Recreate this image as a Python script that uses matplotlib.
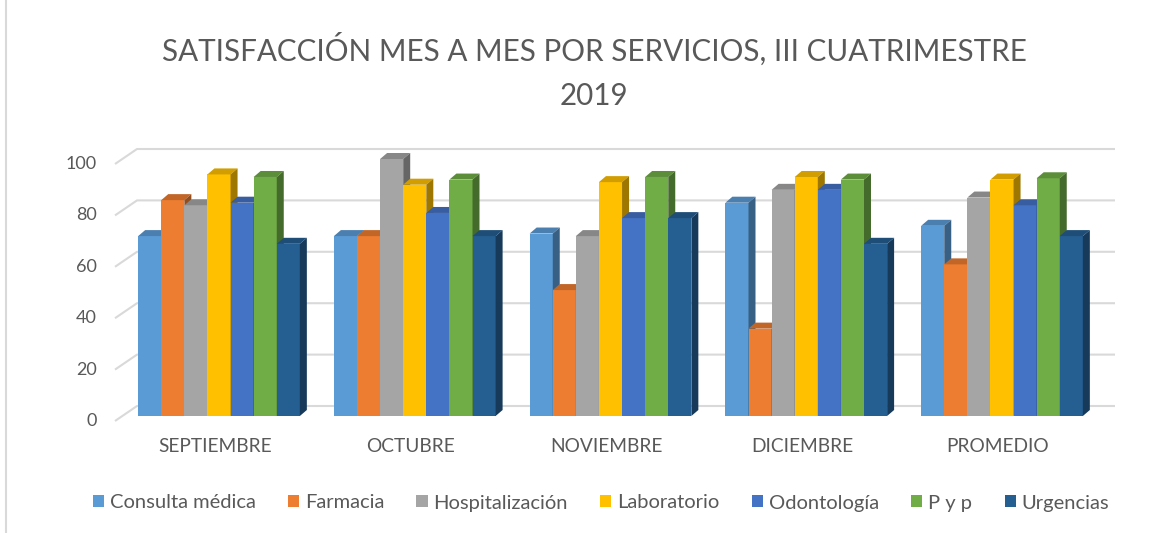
import matplotlib
matplotlib.use("Agg")
import matplotlib.pyplot as plt
from matplotlib.patches import Polygon
from matplotlib.lines import Line2D
from matplotlib.patches import Patch
from matplotlib.colors import to_rgb

plt.rcParams['font.family'] = ['Lato', 'DejaVu Sans']

# data
meses = ["SEPTIEMBRE", "OCTUBRE", "NOVIEMBRE", "DICIEMBRE", "PROMEDIO"]
servicios = ["Consulta médica", "Farmacia", "Hospitalización", "Laboratorio",
             "Odontología", "P y p", "Urgencias"]
consulta = [70, 70, 71, 83, 74]
farmacia = [84, 70, 49, 34, 59]
hospitalizacion = [82, 100, 70, 88, 85]
laboratorio = [94, 90, 91, 93, 92]
odontologia = [83, 79, 77, 88, 82]
pyp = [93, 92, 93, 92, 92.5]
urgencias = [67, 70, 77, 67, 70]
yticks = [0, 20, 40, 60, 80, 100]

series = [consulta, farmacia, hospitalizacion, laboratorio, odontologia, pyp, urgencias]
colores = ["#5B9BD5", "#ED7D31", "#A5A5A5", "#FFC000", "#4472C4", "#70AD47", "#255E91"]

gris = "#595959"

def shade(c, f):
    r, g, b = to_rgb(c)
    return (r * f, g * f, b * f)

fig = plt.figure(figsize=(11.72, 5.33), dpi=100)
W, H = 1172, 533
# axes placed so 1 x unit = 195.75 px, 1 y unit = 2.57 px
left_px, right_px, top_px, bot_px = 100, 1125, 140, 430
ax = fig.add_axes([left_px / W, 1 - bot_px / H, (right_px - left_px) / W, (bot_px - top_px) / H])
x0px, y0px, sx, sy = 219, 416, 195.75, 2.57
ax.set_xlim((left_px - x0px) / sx, (right_px - x0px) / sx)
ax.set_ylim(-(bot_px - y0px) / sy, (y0px - top_px) / sy)
ax.axis("off")

# 3d offsets
bx_front, by_front = (115 - x0px) / sx, -5 / sy     # front floor edge
bx_back, by_back = (137 - x0px) / sx, 10 / sy       # back wall
bx_end = (1115 - x0px) / sx
ddx, ddy = 7 / sx, 6 / sy                           # bar depth

# gridlines on back wall with floor diagonal
for v in yticks:
    ax.plot([bx_front, bx_back, bx_end], [v + by_front, v + by_back, v + by_back],
            color="#D9D9D9", lw=1.5, zorder=0, solid_capstyle="butt")
    ax.text(bx_front - 18 / sx, v + by_front, str(v), ha="right", va="center",
            fontsize=13, color=gris, clip_on=False)

w = 23.1 / sx
z = 2
for i in range(len(meses)):
    for j, vals in enumerate(series):
        v = vals[i]
        xl = i + (j - 3) * w - w / 2
        xr = xl + w
        c = colores[j]
        ax.bar(xl, v, width=w, align="edge", color=c, zorder=z, linewidth=0)
        top = Polygon([(xl, v), (xl + ddx, v + ddy), (xr + ddx, v + ddy), (xr, v)],
                      closed=True, facecolor=shade(c, 0.82), edgecolor="none", zorder=z)
        side = Polygon([(xr, 0), (xr + ddx, ddy), (xr + ddx, v + ddy), (xr, v)],
                       closed=True, facecolor=shade(c, 0.62), edgecolor="none", zorder=z)
        ax.add_patch(top)
        ax.add_patch(side)
        z += 1
    ax.text(i - 4 / sx, -(447 - y0px) / sy, meses[i], ha="center", va="center",
            fontsize=13.8, color=gris, clip_on=False)

fig.text(594 / W, 1 - 71 / H, "SATISFACCIÓN MES A MES POR SERVICIOS, III CUATRIMESTRE\n2019",
         ha="center", va="center", fontsize=21.3, color=gris, linespacing=1.69)

handles = [Patch(facecolor=c, edgecolor="none") for c in colores]
fig.legend(handles, servicios, loc="center", bbox_to_anchor=(601 / W, 1 - 503 / H), ncol=7,
           frameon=False, fontsize=14.5, labelcolor=gris, handlelength=0.55, handleheight=0.55,
           handletextpad=0.3, columnspacing=1.6)

fig.add_artist(Line2D([6 / W, 6 / W], [0, 1], color="#D9D9D9", lw=1.5))

fig.savefig("out.png", dpi=100)
